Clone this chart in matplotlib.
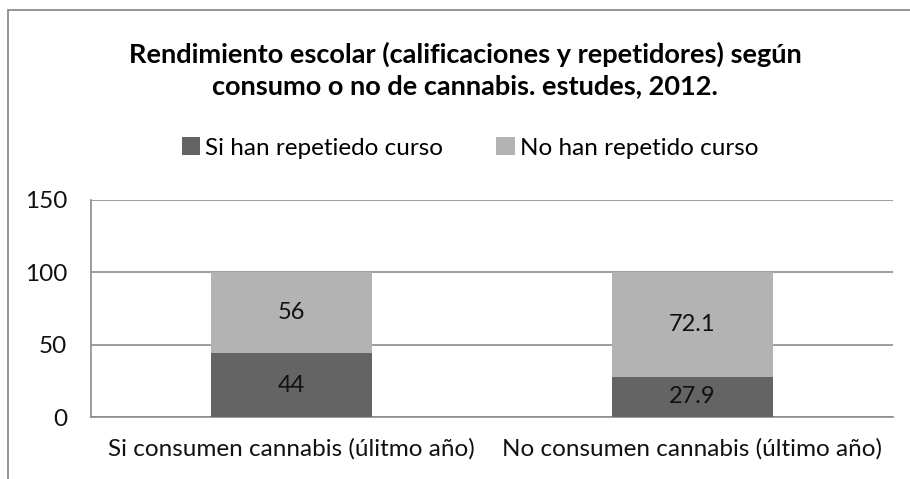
import matplotlib.pyplot as plt
from matplotlib.patches import Rectangle

# datos
categorias = ['Si consumen cannabis (úlitmo año)', 'No consumen cannabis (último año)']
si_repetido = [44, 27.9]
no_repetido = [56, 72.1]
series = ['Si han repetiedo curso', 'No han repetido curso']
colores = ['#646464', '#b3b3b3']

plt.rcParams['font.family'] = ['Lato', 'DejaVu Sans']

fig = plt.figure(figsize=(9.1, 4.79), dpi=100)
ax = fig.add_axes([91/910, 1-417/479, 802/910, 217/479])

# marco del gráfico
fig.patches.append(Rectangle((8/910, -0.1), 1.2, 1-10/479+0.1, transform=fig.transFigure,
                             fill=False, edgecolor='#8c8c8c', lw=1.3))

x = range(len(categorias))
b1 = ax.bar(x, si_repetido, width=0.4, color=colores[0], label=series[0], zorder=3)
b2 = ax.bar(x, no_repetido, width=0.4, bottom=si_repetido, color=colores[1], label=series[1], zorder=3)
ax.bar_label(b1, labels=[f'{v:g}' for v in si_repetido], label_type='center', fontsize=17, color='#111111')
ax.bar_label(b2, labels=[f'{v:g}' for v in no_repetido], label_type='center', fontsize=17, color='#111111')

ax.set_xlim(-0.5, 1.5)
ax.set_ylim(0, 150)
ax.set_yticks([0, 50, 100, 150])
ax.set_xticks(list(x))
ax.set_xticklabels(categorias)
ax.tick_params(axis='both', length=0, labelsize=17.5, colors='#111111')
ax.tick_params(axis='y', pad=17)
ax.tick_params(axis='x', pad=15)
ax.grid(axis='y', color='#8c8c8c', lw=1.2, zorder=0)
for s in ['top', 'right']:
    ax.spines[s].set_visible(False)
for s in ['left', 'bottom']:
    ax.spines[s].set_color('#8c8c8c')
    ax.spines[s].set_linewidth(1.2)

fig.text(465/910, 1-70/479, 'Rendimiento escolar (calificaciones y repetidores) según\nconsumo o no de cannabis. estudes, 2012.',
         ha='center', va='center', fontsize=19.5, fontweight='bold', linespacing=1.35)

fig.legend(loc='center', bbox_to_anchor=(470/910, 1-148/479), ncol=2, frameon=False,
           fontsize=17.5, handlelength=0.75, handleheight=0.75, handletextpad=0.2, columnspacing=2.2)

plt.savefig('out.png', dpi=100)
